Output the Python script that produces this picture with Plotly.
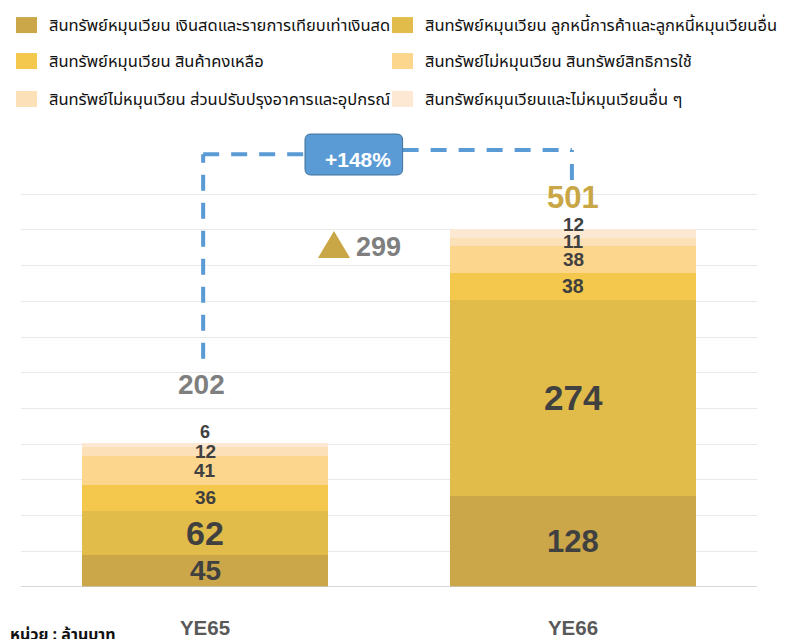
import plotly.graph_objects as go

categories = ["YE65", "YE66"]
series_names = [
    "สินทรัพย์หมุนเวียน เงินสดและรายการเทียบเท่าเงินสด",
    "สินทรัพย์หมุนเวียน ลูกหนี้การค้าและลูกหนี้หมุนเวียนอื่น",
    "สินทรัพย์หมุนเวียน สินค้าคงเหลือ",
    "สินทรัพย์ไม่หมุนเวียน สินทรัพย์สิทธิการใช้",
    "สินทรัพย์ไม่หมุนเวียน ส่วนปรับปรุงอาคารและอุปกรณ์",
    "สินทรัพย์หมุนเวียนและไม่หมุนเวียนอื่น ๆ",
]
cash = [45, 128]
receivables = [62, 274]
inventory = [36, 38]
rou_assets = [41, 38]
leasehold = [12, 11]
others = [6, 12]
unit_label = "หน่วย : ล้านบาท"

series_values = [cash, receivables, inventory, rou_assets, leasehold, others]
colors = ["#CBA74A", "#E1BC4A", "#F4C84C", "#FCD68D", "#FCE0B7", "#FDE9D3"]
# label font sizes per series per category
label_sizes = [[28, 31], [34, 35], [19, 19.5], [19, 19], [19, 19], [18, 19]]
label_yshift = [[0, 0], [0, 0], [0, 0], [0, 0], [0, 0], [13, 9]]

OFF = 8  # page body margin offset
PX = 0.7145  # px per data unit
H, W = 639, 787
L = 21 - OFF
T = 130 - OFF
B = H - (587.3 - OFF)
R = W - (757 - OFF)
plot_h = H - T - B
plot_w = W - L - R
ymax = plot_h / PX

NUM_FONT = "Arial, 'Liberation Sans', sans-serif"
THAI_FONT = "Tahoma, 'Leelawadee UI', 'Noto Sans Thai', 'DejaVu Sans', sans-serif"

fig = go.Figure()
for name, vals, col in zip(series_names, series_values, colors):
    fig.add_trace(go.Bar(x=categories, y=vals, name=name, marker=dict(color=col, line=dict(width=0)),
                         width=0.666, showlegend=False, hoverinfo="skip"))

annotations = []
totals = [sum(v[i] for v in series_values) for i in range(len(categories))]
for ci, cat in enumerate(categories):
    base = 0
    for si, vals in enumerate(series_values):
        v = vals[ci]
        annotations.append(dict(x=cat, y=base + v / 2, text=f"<b>{v}</b>", showarrow=False,
                                yshift=label_yshift[si][ci],
                                font=dict(family=NUM_FONT, size=label_sizes[si][ci], color="#404040")))
        base += v

# totals
annotations.append(dict(x=-0.01, y=totals[0], yshift=58, text=f"<b>{totals[0]}</b>", showarrow=False,
                        font=dict(family=NUM_FONT, size=28, color="#7F7F7F")))
annotations.append(dict(x=1, y=totals[1], yshift=31.5, text=f"<b>{totals[1]}</b>", showarrow=False,
                        font=dict(family=NUM_FONT, size=31, color="#C9A646")))

diff = totals[1] - totals[0]
pct = diff / totals[0] * 100
annotations.append(dict(x=0.4728, y=476.7, text=f"<b>{diff}</b>", showarrow=False,
                        font=dict(family=NUM_FONT, size=27, color="#7F7F7F")))
annotations.append(dict(x=0.4153, y=599, text=f"<b>+{pct:.0f}%</b>", showarrow=False,
                        font=dict(family=NUM_FONT, size=21, color="white")))

shapes = []
# baseline
shapes.append(dict(type="line", xref="paper", yref="y", x0=0, x1=1, y0=0, y1=0,
                   line=dict(color="#C8C8C8", width=1.5)))
# dashed connectors
dash = dict(color="#5B9BD5", width=4, dash="16px,12px")
y_left_top = 606
y_right_top = 612
shapes.append(dict(type="line", xref="x", yref="y", x0=-0.005, x1=-0.005,
                   y0=totals[0] + 117.5, y1=y_left_top, line=dash))
shapes.append(dict(type="line", xref="x", yref="y", x0=-0.005, x1=0.272,
                   y0=y_left_top, y1=y_left_top, line=dash))
shapes.append(dict(type="line", xref="x", yref="y", x0=0.537, x1=0.997,
                   y0=y_right_top, y1=y_right_top, line=dash))
shapes.append(dict(type="line", xref="x", yref="y", x0=0.997, x1=0.997,
                   y0=totals[1] + 69, y1=y_right_top, line=dash))

# rounded box
bx0, bx1, by0, by1 = 0.2717, 0.537, 577, 634.4
rx, ry = 6 / 368, 6 / PX
path = (f"M {bx0+rx},{by0} L {bx1-rx},{by0} Q {bx1},{by0} {bx1},{by0+ry} "
        f"L {bx1},{by1-ry} Q {bx1},{by1} {bx1-rx},{by1} L {bx0+rx},{by1} "
        f"Q {bx0},{by1} {bx0},{by1-ry} L {bx0},{by0+ry} Q {bx0},{by0} {bx0+rx},{by0} Z")
shapes.append(dict(type="path", xref="x", yref="y", path=path, fillcolor="#5B9BD5",
                   line=dict(color="#41719C", width=1)))
# triangle
tri = "M 0.307,460.9 L 0.394,460.9 L 0.3505,498.7 Z"
shapes.append(dict(type="path", xref="x", yref="y", path=tri, fillcolor="#C9A646", line=dict(width=0)))

# manual legend (positions in screenshot px)
def px_to_paper_x(px):
    return (px - OFF - L) / plot_w

def px_to_paper_y(py):
    return (H - B - (py - OFF)) / plot_h

legend_pos = [(16, 25), (392, 25), (16, 61), (392, 61), (16, 99), (392, 99)]
for (lx, ly), name, col in zip(legend_pos, series_names, colors):
    wclip = 345 if lx < 100 else 420
    annotations.append(dict(xref="paper", yref="paper", x=px_to_paper_x(lx + 31), y=px_to_paper_y(ly),
                            xanchor="left", yanchor="middle", text=name, showarrow=False,
                            width=wclip, align="left",
                            font=dict(family=THAI_FONT, size=16.5, color="#111111")))
    shapes.append(dict(type="rect", xref="paper", yref="paper",
                       x0=px_to_paper_x(lx), x1=px_to_paper_x(lx + 21),
                       y0=px_to_paper_y(ly + 8), y1=px_to_paper_y(ly - 8),
                       fillcolor=col, line=dict(width=0), layer="above"))

annotations.append(dict(xref="paper", yref="paper", x=px_to_paper_x(8), y=px_to_paper_y(635),
                        xanchor="left", yanchor="middle", text=f"<b>{unit_label}</b>", showarrow=False,
                        font=dict(family=THAI_FONT, size=16, color="#111111")))

fig.update_layout(
    width=W, height=H, barmode="stack", bargap=0.334,
    margin=dict(l=L, r=R, t=T, b=B, autoexpand=False),
    plot_bgcolor="white", paper_bgcolor="white",
    xaxis=dict(range=[-0.5, 1.5], showgrid=False, zeroline=False, showline=False, ticks="",
               automargin=False,
               tickfont=dict(family=NUM_FONT, size=20.5, color="#595959", weight="bold"),
               ticklabelstandoff=26),
    yaxis=dict(range=[0, ymax], tickvals=list(range(50, 551, 50)), showticklabels=False,
               automargin=False,
               showgrid=True, gridcolor="#E9E9E9", gridwidth=1.3, zeroline=False, showline=False),
    annotations=annotations, shapes=shapes,
)
fig.write_html("out.html")
